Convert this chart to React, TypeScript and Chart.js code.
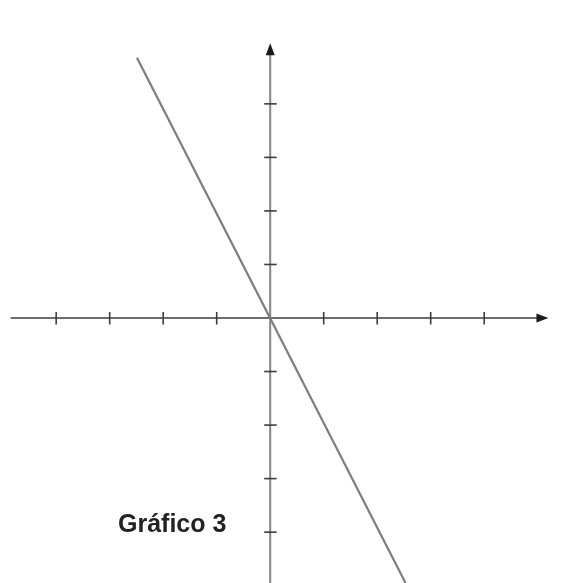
import React, { useEffect, useRef } from "react";
import { Chart, registerables } from "chart.js";

Chart.register(...registerables);

// Data
const lineX = [-2.49, 2.53];
const lineY = [4.86, -4.95];
const xTicks = [-4, -3, -2, -1, 1, 2, 3, 4];
const yTicks = [4, 3, 2, 1, -1, -2, -3, -4];
const xAxisRange = [-4.85, 5.2];
const yAxisRange = [-4.95, 5.13];
const viewX = [-5.05, 5.51];
const viewY = [-4.95, 5.94];
const title = "Gráfico 3";

const axesPlugin = {
  id: "crossAxes",
  beforeDatasetsDraw(chart: any) {
    const { ctx, scales } = chart;
    const xs = scales.x;
    const ys = scales.y;
    const ox = xs.getPixelForValue(0);
    const oy = ys.getPixelForValue(0);
    ctx.save();
    ctx.lineCap = "butt";
    // y axis
    const yTop = ys.getPixelForValue(yAxisRange[1]);
    const yBot = ys.getPixelForValue(yAxisRange[0]);
    ctx.strokeStyle = "#858585";
    ctx.lineWidth = 2;
    ctx.beginPath();
    ctx.moveTo(ox, yBot);
    ctx.lineTo(ox, yTop + 8);
    ctx.stroke();
    // x axis
    const xL = xs.getPixelForValue(xAxisRange[0]);
    const xR = xs.getPixelForValue(xAxisRange[1]);
    ctx.strokeStyle = "#3c3c3c";
    ctx.lineWidth = 1.5;
    ctx.beginPath();
    ctx.moveTo(xL, oy);
    ctx.lineTo(xR - 8, oy);
    ctx.stroke();
    // ticks
    ctx.strokeStyle = "#3c3c3c";
    ctx.lineWidth = 1.6;
    xTicks.forEach((t) => {
      const px = xs.getPixelForValue(t);
      ctx.beginPath();
      ctx.moveTo(px, oy - 6);
      ctx.lineTo(px, oy + 6.5);
      ctx.stroke();
    });
    yTicks.forEach((t) => {
      const py = ys.getPixelForValue(t);
      ctx.beginPath();
      ctx.moveTo(ox - 6, py);
      ctx.lineTo(ox + 6.5, py);
      ctx.stroke();
    });
    // arrows
    ctx.fillStyle = "#1a1a1a";
    ctx.beginPath();
    ctx.moveTo(xR, oy);
    ctx.lineTo(xR - 12, oy - 4.5);
    ctx.lineTo(xR - 12, oy + 4.5);
    ctx.closePath();
    ctx.fill();
    ctx.beginPath();
    ctx.moveTo(ox, yTop);
    ctx.lineTo(ox - 4.5, yTop + 12);
    ctx.lineTo(ox + 4.5, yTop + 12);
    ctx.closePath();
    ctx.fill();
    ctx.restore();
  },
};

export default function App() {
  const ref = useRef<HTMLCanvasElement | null>(null);
  useEffect(() => {
    if (!ref.current) return;
    const chart = new Chart(ref.current, {
      type: "scatter",
      data: {
        datasets: [
          {
            data: lineX.map((x, i) => ({ x, y: lineY[i] })),
            showLine: true,
            borderColor: "#7d7d7d",
            borderWidth: 2.2,
            pointRadius: 0,
            fill: false,
          },
        ],
      },
      options: {
        responsive: false,
        animation: false,
        layout: { padding: 0 },
        plugins: {
          legend: { display: false },
          tooltip: { enabled: false },
          title: { display: false },
        },
        scales: {
          x: { type: "linear", min: viewX[0], max: viewX[1], display: false },
          y: { type: "linear", min: viewY[0], max: viewY[1], display: false },
        },
      },
      plugins: [axesPlugin],
    });
    return () => chart.destroy();
  }, []);

  return (
    <div
      style={{
        position: "absolute",
        left: 0,
        top: 0,
        width: 565,
        height: 583,
        background: "#ffffff",
      }}
    >
      <canvas ref={ref} width={565} height={583} style={{ display: "block" }} />
      <div
        style={{
          position: "absolute",
          left: 118,
          top: 511,
          fontFamily: '"Liberation Sans", Arial, sans-serif',
          fontWeight: "bold",
          fontSize: 25,
          lineHeight: "25px",
          color: "#222222",
          whiteSpace: "nowrap",
        }}
      >
        {title}
      </div>
    </div>
  );
}
